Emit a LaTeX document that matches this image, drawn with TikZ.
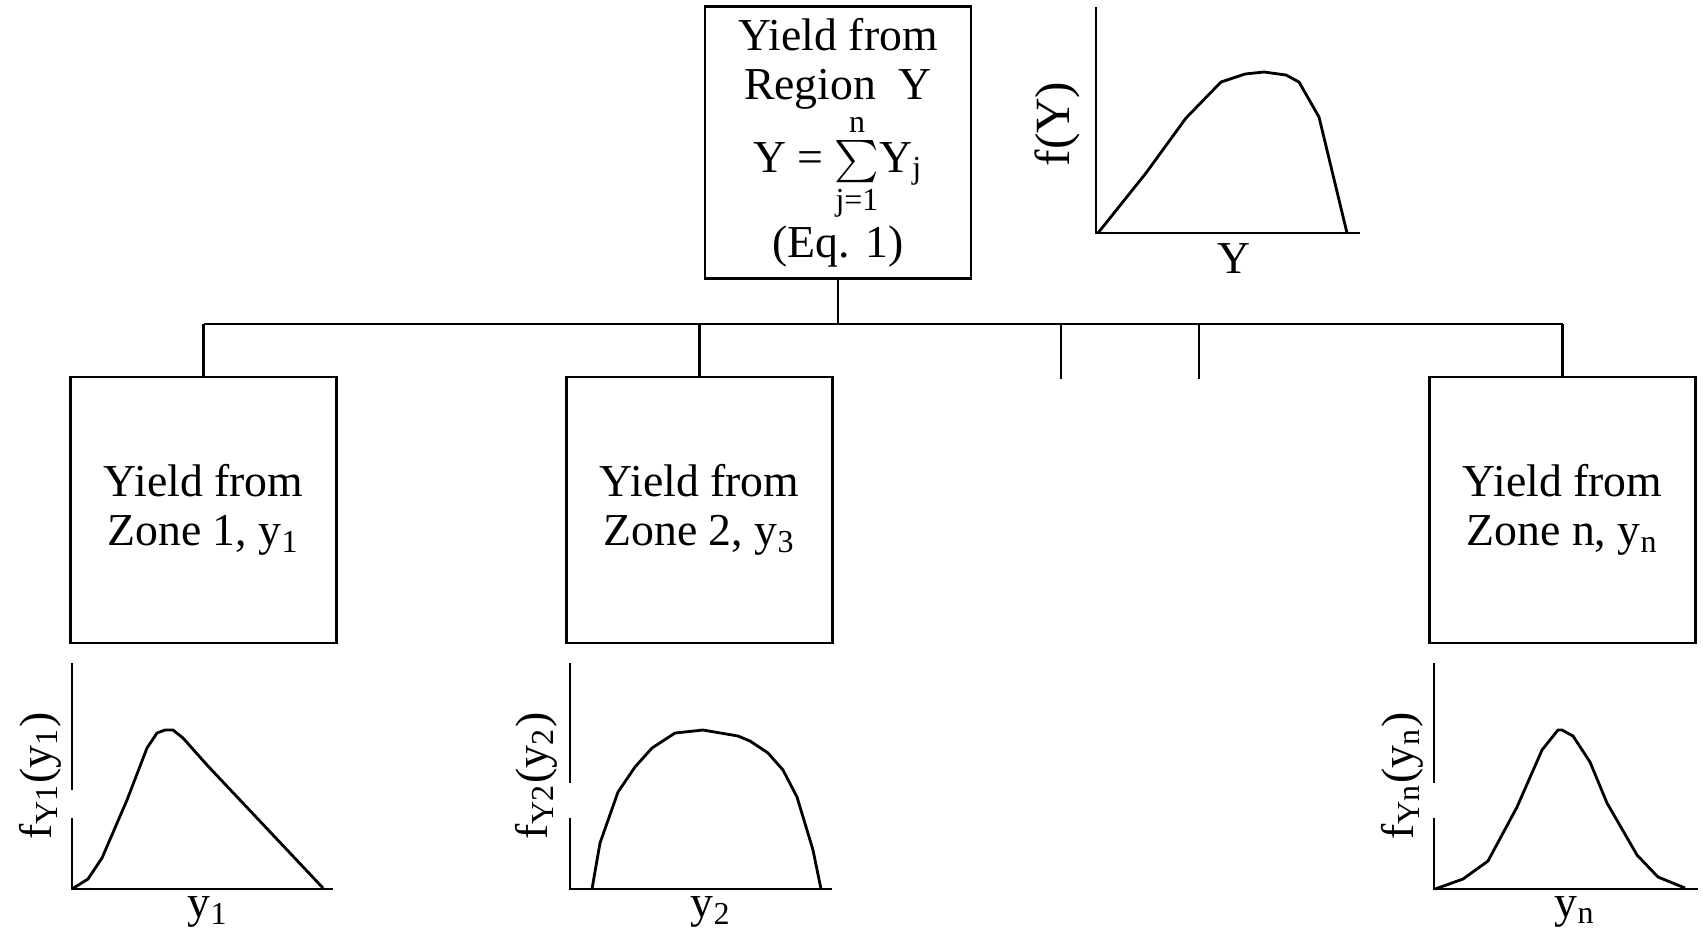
\documentclass[tikz,border=0pt]{standalone}
\usepackage{fontspec}
\setmainfont{Liberation Serif}
\usepackage{amsmath}
\tikzset{
    % Boxes with sharp corners
    yield box/.style={
        rectangle,
        draw=black,
        fill=white,
        line width=0.7pt,
        minimum width=2.66cm,
        minimum height=2.66cm,
        align=center,
        font=\fontsize{13}{14}\selectfont
    },
    tree line/.style={
        line width=0.7pt,
        black
    },
    axis line/.style={
        line width=0.7pt,
        black
    },
    density curve/.style={
        line width=0.8pt,
        line join=round,
        black
    },
    axis label/.style={
        inner sep=0pt,
        font=\fontsize{13}{14}\selectfont
    }
}

\begin{document}
\begin{tikzpicture}[x=0.01cm, y=-0.01cm]
        \useasboundingbox (0,0) rectangle (1703,935);

        % Region node
        \node[yield box, minimum height=2.67cm] (region) at (838,142.5) {
            Yield from\\
            Region~ Y\\
            Y = $\sum\limits_{\textrm{j=1}}^{\textrm{n}}$Y\textsubscript{j}\\
            (Eq. 1)
        };

        % Zone nodes
        \node[yield box] (zone1) at (203.5,510) {Yield from\\Zone 1, y\textsubscript{1}};
        \node[yield box] (zone2) at (699.5,510) {Yield from\\Zone 2, y\textsubscript{3}};
        \node[yield box] (zonen) at (1562.5,510) {Yield from\\Zone n, y\textsubscript{n}};

        % Tree lines
        \coordinate (bus) at (0,324);
        \coordinate (stub3) at (1061,379);
        \coordinate (stub4) at (1199,379);
        \draw[tree line] (region.south) -- (region.south |- bus);
        \draw[tree line] (zone1.north |- bus) -- (zonen.north |- bus);
        \foreach \z in {zone1,zone2,zonen}
            \draw[tree line] (\z.north |- bus) -- (\z.north);
        \draw[tree line] (stub3 |- bus) -- (stub3);
        \draw[tree line] (stub4 |- bus) -- (stub4);

        % Plot of Y
        \draw[axis line] (1096,7) -- (1096,233) -- (1360,233);
        \draw[density curve] (1098,233) -- (1146,173) -- (1186,118) -- (1221,82) -- (1245,74)
            -- (1264,72) -- (1286,75) -- (1299,82) -- (1319,117) -- (1347,233);
        \node[axis label, rotate=90, font=\fontsize{14}{14}\selectfont] (fY) at (1057,124) {f(Y)};
        \node[axis label] (Ylab) at (1234,259) {Y};

        % Plot of zone 1
        \draw[axis line] (72,663) -- (72,790);
        \draw[axis line] (72,818) -- (72,889) -- (333,889);
        \draw[density curve] (72,889) -- (88,879) -- (102,858) -- (127,800) -- (147,748) -- (157,733)
            -- (165,730) -- (173,730) -- (183,738) -- (207,765) -- (323,888);
        \node[axis label, rotate=90] (fy1) at (40,776) {f\textsubscript{Y1}(y\textsubscript{1})};
        \node[axis label] (y1) at (208,912) {y\textsubscript{1}};

        % Plot of zone 2
        \draw[axis line] (570,663) -- (570,783);
        \draw[axis line] (570,818) -- (570,889) -- (832,889);
        \draw[density curve] (592,889) -- (600,843) -- (618,792) -- (635,767) -- (652,748) -- (675,733)
            -- (703,730) -- (738,736) -- (750,741) -- (768,753) -- (783,770) -- (797,797)
            -- (813,850) -- (821,889);
        \node[axis label, rotate=90] (fy2) at (536,776) {f\textsubscript{Y2}(y\textsubscript{2})};
        \node[axis label] (y2) at (711,912) {y\textsubscript{2}};

        % Plot of zone n
        \draw[axis line] (1434,663) -- (1434,783);
        \draw[axis line] (1434,818) -- (1434,889) -- (1698,889);
        \draw[density curve] (1435,889) -- (1463,879) -- (1488,861) -- (1517,807) -- (1542,750)
            -- (1558,730) -- (1562,730) -- (1573,736) -- (1590,762) -- (1607,803) -- (1637,855)
            -- (1658,877) -- (1685,888);
        \node[axis label, rotate=90] (fyn) at (1402,776) {f\textsubscript{Yn}(y\textsubscript{n})};
        \node[axis label] (yn) at (1575,912) {y\textsubscript{n}};
    \end{tikzpicture}
\end{document}
